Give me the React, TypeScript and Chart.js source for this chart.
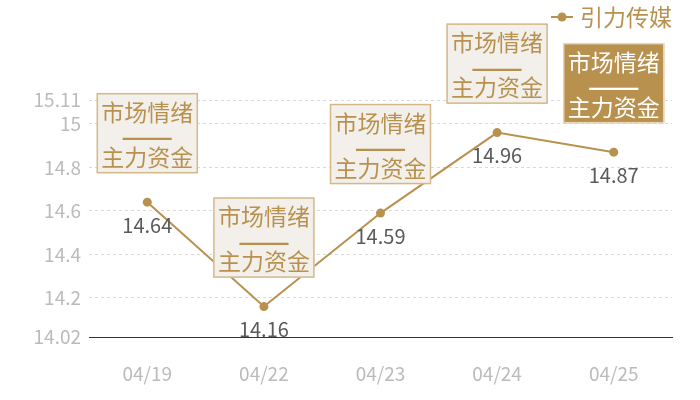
import { useEffect, useRef } from 'react';
import { Chart, registerables } from 'chart.js';

Chart.register(...registerables);

const DATES = ['04/19', '04/22', '04/23', '04/24', '04/25'];
const PRICES = [14.64, 14.16, 14.59, 14.96, 14.87];
const Y_TICKS = [14.02, 14.2, 14.4, 14.6, 14.8, 15, 15.11];
const SERIES_NAME = '引力传媒';
const BOX_LINES = ['市场情绪', '——', '主力资金'];
const HIGHLIGHTED = [false, false, false, false, true];

const GOLD = '#b9914f';
const FONT = '"Noto Sans CJK SC", "Noto Sans", sans-serif';

// boxes above each point, value labels below, custom legend top right
const overlayPlugin = {
  id: 'overlay',
  afterDatasetsDraw(chart: Chart) {
    const ctx = chart.ctx;
    const meta = chart.getDatasetMeta(0);
    ctx.save();
    meta.data.forEach((pt: any, i: number) => {
      const x = pt.x;
      const y = pt.y;

      // value label
      ctx.font = `20px ${FONT}`;
      ctx.fillStyle = '#5a5a5a';
      ctx.textAlign = 'center';
      ctx.textBaseline = 'middle';
      ctx.fillText(String(PRICES[i]), x, y + 23);

      // box
      const w = 101;
      const h = 80;
      const bx = x - w / 2;
      const by = y - 29 - h;
      const hl = HIGHLIGHTED[i];
      ctx.fillStyle = hl ? GOLD : '#f3f0eb';
      ctx.fillRect(bx, by, w, h);
      ctx.strokeStyle = hl ? '#e6d6b6' : '#d4b888';
      ctx.lineWidth = 1.5;
      ctx.strokeRect(bx + 0.5, by + 0.5, w - 1, h - 1);
      ctx.fillStyle = hl ? '#ffffff' : GOLD;
      ctx.font = `23px ${FONT}`;
      ctx.fillText(BOX_LINES[0], x, by + 19);
      ctx.fillText(BOX_LINES[2], x, by + 64);
      // stretch the dash line to the reference width
      ctx.save();
      ctx.font = `23px ${FONT}`;
      const dw = ctx.measureText(BOX_LINES[1]).width || 1;
      ctx.translate(x, by + 42);
      ctx.scale(52 / dw, 1.6);
      ctx.fillText(BOX_LINES[1], 0, 0);
      ctx.restore();
    });

    // legend
    ctx.strokeStyle = GOLD;
    ctx.lineWidth = 2;
    ctx.beginPath();
    ctx.moveTo(551, 17);
    ctx.lineTo(573, 17);
    ctx.stroke();
    ctx.fillStyle = GOLD;
    ctx.beginPath();
    ctx.arc(562, 17, 4.5, 0, Math.PI * 2);
    ctx.fill();
    ctx.font = `23px ${FONT}`;
    ctx.textAlign = 'left';
    ctx.textBaseline = 'middle';
    ctx.fillText(SERIES_NAME, 580, 17);
    ctx.restore();
  },
};

export default function App() {
  const canvasRef = useRef<HTMLCanvasElement>(null);
  const chartRef = useRef<Chart | null>(null);

  useEffect(() => {
    document.body.style.margin = '0';
    if (!canvasRef.current) return;
    if (chartRef.current) chartRef.current.destroy();

    chartRef.current = new Chart(canvasRef.current, {
      type: 'line',
      data: {
        labels: DATES,
        datasets: [
          {
            label: SERIES_NAME,
            data: PRICES,
            borderColor: GOLD,
            backgroundColor: GOLD,
            borderWidth: 2,
            pointRadius: 4.5,
            pointBackgroundColor: GOLD,
            pointBorderWidth: 0,
            tension: 0,
          },
        ],
      },
      options: {
        animation: false,
        responsive: false,
        layout: { padding: { top: 100, right: 28, bottom: 0, left: 0 } },
        plugins: {
          legend: { display: false },
          tooltip: { enabled: false },
        },
        scales: {
          x: {
            offset: true,
            afterFit: (scale: any) => {
              scale.height = 63;
            },
            grid: { display: false, drawTicks: false },
            border: { display: true, color: '#333333', width: 1 },
            ticks: {
              color: '#bbbbbb',
              padding: 25,
              font: { size: 19, family: FONT },
            },
          },
          y: {
            min: 14.02,
            max: 15.11,
            afterBuildTicks: (scale: any) => {
              scale.ticks = Y_TICKS.map((v) => ({ value: v }));
            },
            afterFit: (scale: any) => {
              scale.width = 89;
            },
            grid: { color: '#d9d9d9', drawTicks: false, lineWidth: 1 },
            border: { display: false, dash: [3, 3] },
            ticks: {
              color: '#bbbbbb',
              padding: 8,
              font: { size: 19, family: FONT },
              callback: (v: any) => String(v),
            },
          },
        },
      },
      plugins: [overlayPlugin],
    });

    return () => {
      if (chartRef.current) {
        chartRef.current.destroy();
        chartRef.current = null;
      }
    };
  }, []);

  return (
    <div style={{ width: 700, height: 400 }}>
      <canvas ref={canvasRef} width={700} height={400} />
    </div>
  );
}
